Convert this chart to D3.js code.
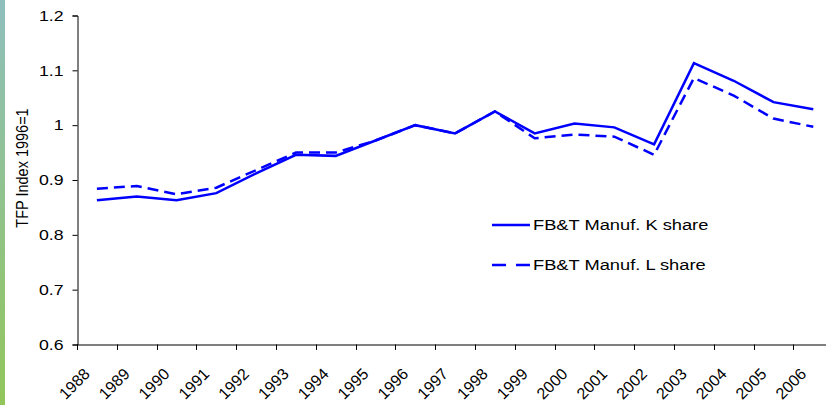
<!DOCTYPE html>
<html>
<head>
<meta charset="utf-8">
<script src="https://cdn.jsdelivr.net/npm/d3@7"></script>
<style>
  body { margin: 0; background: #fff; }
  svg { display: block; font-family: "Liberation Sans", Arial, sans-serif; }
</style>
</head>
<body>
<div id="chart"></div>
<script>
const years = ['1988','1989','1990','1991','1992','1993','1994','1995','1996','1997',
               '1998','1999','2000','2001','2002','2003','2004','2005','2006'];
const kShare = [0.863, 0.870, 0.863, 0.876, 0.912, 0.946, 0.944, 0.972, 1.000, 0.985,
                1.025, 0.985, 1.003, 0.996, 0.965, 1.113, 1.081, 1.042, 1.029];
const lShare = [0.884, 0.889, 0.874, 0.886, 0.918, 0.950, 0.950, 0.972, 1.000, 0.985,
                1.025, 0.976, 0.983, 0.979, 0.946, 1.086, 1.054, 1.012, 0.997];
const yTicks = [0.6, 0.7, 0.8, 0.9, 1, 1.1, 1.2];
const seriesNames = ['FB&T Manuf. K share', 'FB&T Manuf. L share'];

const width = 826, height = 405;
const blue = '#0000ff';
const stretch = 1.18; // the picture is a bit wider than tall

var svg = d3.select('#chart').append('svg')
  .attr('width', width)
  .attr('height', height);

// left decorative strip
var grad = svg.append('defs').append('linearGradient')
  .attr('id', 'strip').attr('x1', 0).attr('y1', 0).attr('x2', 0).attr('y2', 1);
grad.append('stop').attr('offset', '0%').attr('stop-color', '#8fbfbd');
grad.append('stop').attr('offset', '100%').attr('stop-color', '#92c65a');
svg.append('rect').attr('x', 0).attr('y', 0).attr('width', 5).attr('height', height)
  .attr('fill', 'url(#strip)');

var xScale = d3.scaleBand()
  .domain(years)
  .range([77, 77 + 19 * 39.8])
  .padding(0);

var yScale = d3.scaleLinear()
  .domain([0.6, 1.2])
  .range([344.5, 15.5]);

var xAxis = svg.append('g')
  .attr('transform', 'translate(0,344.5)')
  .call(d3.axisBottom(xScale).tickSize(0).tickFormat(''));
xAxis.select('.domain').attr('stroke', '#000');

// tick marks on category boundaries
svg.append('g').selectAll('line')
  .data(d3.range(years.length + 1))
  .join('line')
  .attr('x1', i => Math.round(77 + i * xScale.bandwidth()) + 0.5)
  .attr('x2', i => Math.round(77 + i * xScale.bandwidth()) + 0.5)
  .attr('y1', 344.5).attr('y2', 350)
  .attr('stroke', '#000');

svg.append('g').selectAll('text')
  .data(years)
  .join('text')
  .attr('transform', d => `translate(${xScale(d) + xScale.bandwidth() / 2 - 6},375) rotate(-45)`)
  .attr('text-anchor', 'end')
  .attr('font-size', 16)
  .attr('fill', '#000')
  .text(d => d);

var yAxis = svg.append('g')
  .attr('transform', 'translate(77.5,0)')
  .call(d3.axisLeft(yScale).tickValues(yTicks).tickSize(5)
    .tickFormat(d => d3.format('')(+d.toFixed(1))));
yAxis.select('.domain').attr('stroke', '#000');
yAxis.selectAll('.tick line').attr('stroke', '#000');
yAxis.selectAll('.tick text')
  .attr('x', null)
  .attr('transform', `translate(-14,0) scale(${stretch},1)`)
  .attr('font-size', 15)
  .attr('fill', '#000');

svg.append('text')
  .attr('transform', `translate(28,168) scale(${stretch},1) rotate(-90)`)
  .attr('text-anchor', 'middle')
  .attr('font-size', 14.5)
  .attr('fill', '#000')
  .text('TFP Index 1996=1');

var line = d3.line()
  .x((d, i) => xScale(years[i]) + xScale.bandwidth() / 2)
  .y(d => yScale(d));

svg.append('path')
  .datum(lShare)
  .attr('d', line)
  .attr('fill', 'none')
  .attr('stroke', blue)
  .attr('stroke-width', 2.5)
  .attr('stroke-dasharray', '11,6');

svg.append('path')
  .datum(kShare)
  .attr('d', line)
  .attr('fill', 'none')
  .attr('stroke', blue)
  .attr('stroke-width', 2.5);

// legend
var legend = svg.append('g');
[0, 1].forEach(i => {
  var y = 225 + i * 40;
  legend.append('line')
    .attr('x1', 492).attr('x2', 530)
    .attr('y1', y).attr('y2', y)
    .attr('stroke', blue)
    .attr('stroke-width', 2.5)
    .attr('stroke-dasharray', i ? '14,10' : null);
  legend.append('text')
    .attr('transform', `translate(533,${y}) scale(${stretch},1)`)
    .attr('dy', '0.35em')
    .attr('font-size', 15.5)
    .attr('fill', '#000')
    .text(seriesNames[i]);
});
</script>
</body>
</html>
